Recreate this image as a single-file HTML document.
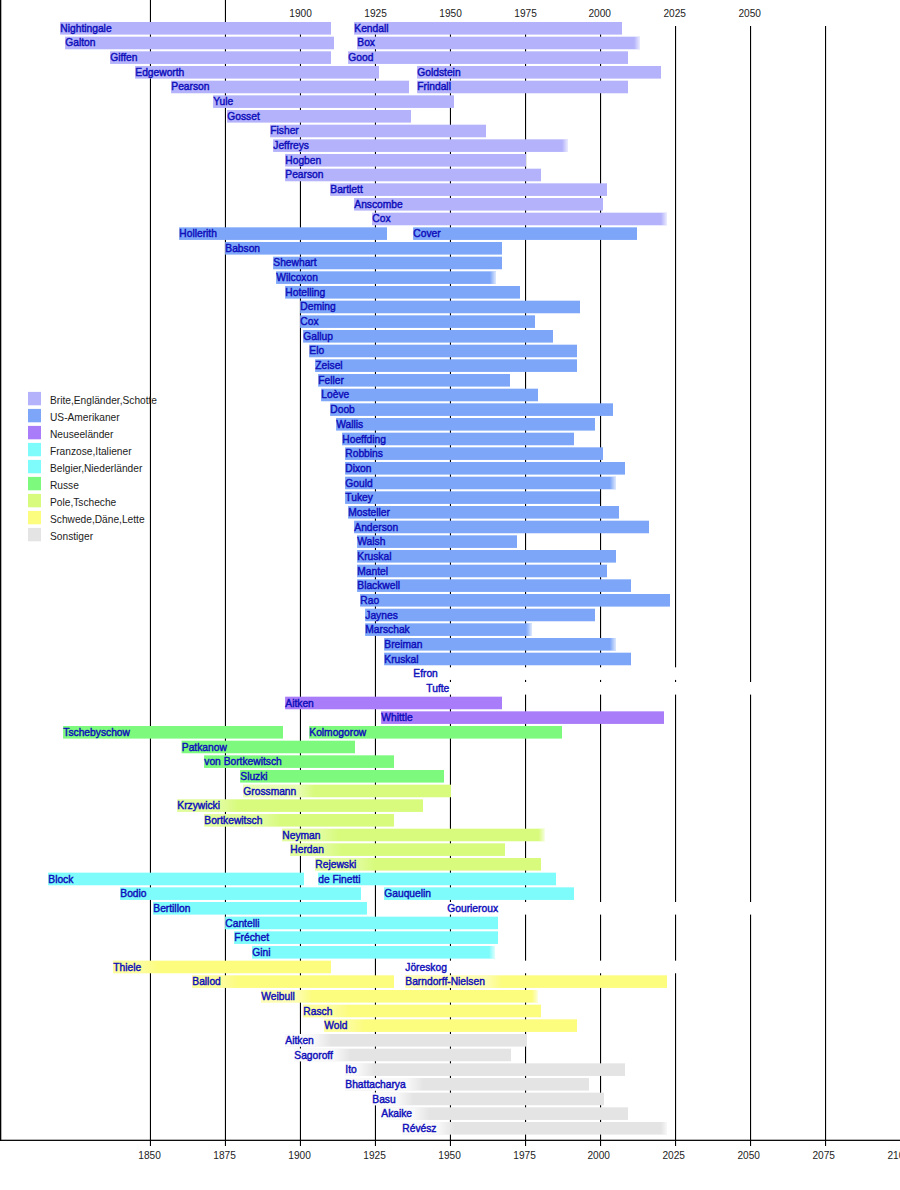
<!DOCTYPE html>
<html lang="de"><head><meta charset="utf-8"><title>Statistiker Zeitleiste</title>
<style>html,body{margin:0;padding:0;background:#fff}body{width:900px;height:1190px;overflow:hidden;position:relative}svg{position:absolute;left:0;top:0;display:block}text{font-family:"Liberation Sans",Arial,Helvetica,sans-serif}.n{font-size:10.25px;fill:#0e0eba;stroke:#0e0eba;stroke-width:0.42px}.a{font-size:10.15px;fill:#1c1c1c;text-anchor:middle}.l{font-size:10.2px;fill:#1c1c1c}</style></head><body>
<svg width="900" height="1190" viewBox="0 0 900 1190">
<rect x="0" y="0" width="900" height="1190" fill="#fff"/>
<g fill="#000">
<rect x="149.9" y="0" width="1.1" height="1146"/>
<rect x="224.9" y="0" width="1.1" height="1146"/>
<rect x="299.9" y="26" width="1.1" height="1120"/>
<rect x="374.9" y="26" width="1.1" height="1120"/>
<rect x="449.9" y="26" width="1.1" height="1120"/>
<rect x="525.0" y="26" width="1.1" height="1120"/>
<rect x="600.0" y="26" width="1.1" height="1120"/>
<rect x="675.0" y="26" width="1.1" height="1120"/>
<rect x="750.0" y="26" width="1.1" height="1120"/>
<rect x="825.0" y="26" width="1.1" height="1120"/>
<rect x="0" y="0" width="1.3" height="1141"/>
<rect x="0" y="1139.7" width="900" height="1.25"/>
</g>
<g>
<rect x="60.1" y="22.00" width="270.9" height="12.6" fill="#b3b2fb"/>
<rect x="354.1" y="22.00" width="267.9" height="12.6" fill="#b3b2fb"/>
<rect x="65.1" y="36.67" width="268.9" height="12.6" fill="#b3b2fb"/>
<rect x="357.1" y="36.67" width="282.9" height="12.6" fill="#b3b2fb"/>
<rect x="110.1" y="51.33" width="220.9" height="12.6" fill="#b3b2fb"/>
<rect x="348.1" y="51.33" width="279.9" height="12.6" fill="#b3b2fb"/>
<rect x="135.1" y="66.00" width="243.9" height="12.6" fill="#b3b2fb"/>
<rect x="417.1" y="66.00" width="243.9" height="12.6" fill="#b3b2fb"/>
<rect x="171.1" y="80.67" width="237.9" height="12.6" fill="#b3b2fb"/>
<rect x="417.1" y="80.67" width="210.9" height="12.6" fill="#b3b2fb"/>
<rect x="213.1" y="95.33" width="240.9" height="12.6" fill="#b3b2fb"/>
<rect x="227.1" y="110.00" width="183.9" height="12.6" fill="#b3b2fb"/>
<rect x="270.1" y="124.67" width="215.9" height="12.6" fill="#b3b2fb"/>
<rect x="273.1" y="139.33" width="294.9" height="12.6" fill="#b3b2fb"/>
<rect x="285.1" y="154.00" width="240.9" height="12.6" fill="#b3b2fb"/>
<rect x="285.1" y="168.67" width="255.9" height="12.6" fill="#b3b2fb"/>
<rect x="330.1" y="183.33" width="276.9" height="12.6" fill="#b3b2fb"/>
<rect x="354.1" y="198.00" width="248.9" height="12.6" fill="#b3b2fb"/>
<rect x="372.1" y="212.67" width="294.9" height="12.6" fill="#b3b2fb"/>
<rect x="179.1" y="227.33" width="207.9" height="12.6" fill="#7da6f9"/>
<rect x="413.1" y="227.33" width="223.9" height="12.6" fill="#7da6f9"/>
<rect x="225.1" y="242.00" width="276.9" height="12.6" fill="#7da6f9"/>
<rect x="273.1" y="256.67" width="228.9" height="12.6" fill="#7da6f9"/>
<rect x="276.1" y="271.33" width="219.9" height="12.6" fill="#7da6f9"/>
<rect x="285.1" y="286.00" width="234.9" height="12.6" fill="#7da6f9"/>
<rect x="300.1" y="300.67" width="279.9" height="12.6" fill="#7da6f9"/>
<rect x="300.1" y="315.33" width="234.9" height="12.6" fill="#7da6f9"/>
<rect x="303.1" y="330.00" width="249.9" height="12.6" fill="#7da6f9"/>
<rect x="309.1" y="344.67" width="267.9" height="12.6" fill="#7da6f9"/>
<rect x="315.1" y="359.33" width="261.9" height="12.6" fill="#7da6f9"/>
<rect x="318.1" y="374.00" width="191.9" height="12.6" fill="#7da6f9"/>
<rect x="321.1" y="388.67" width="216.9" height="12.6" fill="#7da6f9"/>
<rect x="330.1" y="403.33" width="282.9" height="12.6" fill="#7da6f9"/>
<rect x="336.1" y="418.00" width="258.9" height="12.6" fill="#7da6f9"/>
<rect x="342.1" y="432.67" width="231.9" height="12.6" fill="#7da6f9"/>
<rect x="345.1" y="447.33" width="257.9" height="12.6" fill="#7da6f9"/>
<rect x="345.1" y="462.00" width="279.9" height="12.6" fill="#7da6f9"/>
<rect x="345.1" y="476.67" width="270.9" height="12.6" fill="#7da6f9"/>
<rect x="345.1" y="491.33" width="254.9" height="12.6" fill="#7da6f9"/>
<rect x="348.1" y="506.00" width="270.9" height="12.6" fill="#7da6f9"/>
<rect x="354.1" y="520.67" width="294.9" height="12.6" fill="#7da6f9"/>
<rect x="357.1" y="535.33" width="159.9" height="12.6" fill="#7da6f9"/>
<rect x="357.1" y="550.00" width="258.9" height="12.6" fill="#7da6f9"/>
<rect x="357.1" y="564.67" width="249.9" height="12.6" fill="#7da6f9"/>
<rect x="357.1" y="579.33" width="273.9" height="12.6" fill="#7da6f9"/>
<rect x="360.1" y="594.00" width="309.9" height="12.6" fill="#7da6f9"/>
<rect x="365.1" y="608.67" width="229.9" height="12.6" fill="#7da6f9"/>
<rect x="365.1" y="623.33" width="166.9" height="12.6" fill="#7da6f9"/>
<rect x="384.1" y="638.00" width="231.9" height="12.6" fill="#7da6f9"/>
<rect x="384.1" y="652.67" width="246.9" height="12.6" fill="#7da6f9"/>
<rect x="413.1" y="667.33" width="331.9" height="12.6" fill="#ffffff"/>
<rect x="426.1" y="682.00" width="330.9" height="12.6" fill="#ffffff"/>
<rect x="285.1" y="696.67" width="216.9" height="12.6" fill="#a97df9"/>
<rect x="381.1" y="711.33" width="282.9" height="12.6" fill="#a97df9"/>
<rect x="63.1" y="726.00" width="219.9" height="12.6" fill="#7dfa7e"/>
<rect x="309.1" y="726.00" width="252.9" height="12.6" fill="#7dfa7e"/>
<rect x="181.6" y="740.67" width="173.4" height="12.6" fill="#7dfa7e"/>
<rect x="204.1" y="755.33" width="189.9" height="12.6" fill="#7dfa7e"/>
<rect x="240.1" y="770.00" width="203.9" height="12.6" fill="#7dfa7e"/>
<rect x="243.1" y="784.67" width="207.9" height="12.6" fill="#d8fb7e"/>
<rect x="177.1" y="799.33" width="245.9" height="12.6" fill="#d8fb7e"/>
<rect x="204.1" y="814.00" width="189.9" height="12.6" fill="#d8fb7e"/>
<rect x="282.1" y="828.67" width="262.6" height="12.6" fill="#d8fb7e"/>
<rect x="290.1" y="843.33" width="214.9" height="12.6" fill="#d8fb7e"/>
<rect x="315.1" y="858.00" width="225.9" height="12.6" fill="#d8fb7e"/>
<rect x="48.1" y="872.67" width="255.9" height="12.6" fill="#7efbfb"/>
<rect x="318.1" y="872.67" width="237.9" height="12.6" fill="#7efbfb"/>
<rect x="120.1" y="887.33" width="240.9" height="12.6" fill="#7efbfb"/>
<rect x="384.1" y="887.33" width="189.9" height="12.6" fill="#7efbfb"/>
<rect x="153.1" y="902.00" width="213.9" height="12.6" fill="#7efbfb"/>
<rect x="447.1" y="902.00" width="330.9" height="12.6" fill="#ffffff"/>
<rect x="225.1" y="916.67" width="272.9" height="12.6" fill="#7efbfb"/>
<rect x="234.1" y="931.33" width="263.9" height="12.6" fill="#7efbfb"/>
<rect x="252.1" y="946.00" width="242.9" height="12.6" fill="#7efbfb"/>
<rect x="113.1" y="960.67" width="217.9" height="12.6" fill="#fcfc7e"/>
<rect x="405.1" y="960.67" width="330.9" height="12.6" fill="#ffffff"/>
<rect x="192.1" y="975.33" width="201.9" height="12.6" fill="#fcfc7e"/>
<rect x="405.1" y="975.33" width="261.9" height="12.6" fill="#fcfc7e"/>
<rect x="261.1" y="990.00" width="276.9" height="12.6" fill="#fcfc7e"/>
<rect x="303.1" y="1004.67" width="237.9" height="12.6" fill="#fcfc7e"/>
<rect x="324.1" y="1019.33" width="252.9" height="12.6" fill="#fcfc7e"/>
<rect x="285.1" y="1034.00" width="240.9" height="12.6" fill="#e4e4e4"/>
<rect x="294.1" y="1048.67" width="216.9" height="12.6" fill="#e4e4e4"/>
<rect x="345.1" y="1063.33" width="279.9" height="12.6" fill="#e4e4e4"/>
<rect x="345.1" y="1078.00" width="243.9" height="12.6" fill="#e4e4e4"/>
<rect x="372.1" y="1092.67" width="231.9" height="12.6" fill="#e4e4e4"/>
<rect x="381.1" y="1107.33" width="246.9" height="12.6" fill="#e4e4e4"/>
<rect x="402.1" y="1122.00" width="264.9" height="12.6" fill="#e4e4e4"/>
</g>
<defs><linearGradient id="f1" gradientUnits="userSpaceOnUse" x1="243.1" y1="0" x2="314.1" y2="0"><stop offset="0" stop-color="#fff" stop-opacity="0.45"/><stop offset="0.775" stop-color="#fff" stop-opacity="0.41"/><stop offset="1" stop-color="#fff" stop-opacity="0"/></linearGradient><linearGradient id="f2" gradientUnits="userSpaceOnUse" x1="177.1" y1="0" x2="237.8" y2="0"><stop offset="0" stop-color="#fff" stop-opacity="0.25"/><stop offset="0.736" stop-color="#fff" stop-opacity="0.23"/><stop offset="1" stop-color="#fff" stop-opacity="0"/></linearGradient><linearGradient id="f3" gradientUnits="userSpaceOnUse" x1="204.1" y1="0" x2="280.2" y2="0"><stop offset="0" stop-color="#fff" stop-opacity="0.25"/><stop offset="0.790" stop-color="#fff" stop-opacity="0.23"/><stop offset="1" stop-color="#fff" stop-opacity="0"/></linearGradient><linearGradient id="f4" gradientUnits="userSpaceOnUse" x1="282.1" y1="0" x2="338.3" y2="0"><stop offset="0" stop-color="#fff" stop-opacity="0.25"/><stop offset="0.715" stop-color="#fff" stop-opacity="0.23"/><stop offset="1" stop-color="#fff" stop-opacity="0"/></linearGradient><linearGradient id="f5" gradientUnits="userSpaceOnUse" x1="290.1" y1="0" x2="341.7" y2="0"><stop offset="0" stop-color="#fff" stop-opacity="0.25"/><stop offset="0.690" stop-color="#fff" stop-opacity="0.23"/><stop offset="1" stop-color="#fff" stop-opacity="0"/></linearGradient><linearGradient id="f6" gradientUnits="userSpaceOnUse" x1="315.1" y1="0" x2="374.1" y2="0"><stop offset="0" stop-color="#fff" stop-opacity="0.25"/><stop offset="0.729" stop-color="#fff" stop-opacity="0.23"/><stop offset="1" stop-color="#fff" stop-opacity="0"/></linearGradient><linearGradient id="f7" gradientUnits="userSpaceOnUse" x1="113.1" y1="0" x2="159.0" y2="0"><stop offset="0" stop-color="#fff" stop-opacity="0.25"/><stop offset="0.652" stop-color="#fff" stop-opacity="0.23"/><stop offset="1" stop-color="#fff" stop-opacity="0"/></linearGradient><linearGradient id="f8" gradientUnits="userSpaceOnUse" x1="192.1" y1="0" x2="238.6" y2="0"><stop offset="0" stop-color="#fff" stop-opacity="0.25"/><stop offset="0.656" stop-color="#fff" stop-opacity="0.23"/><stop offset="1" stop-color="#fff" stop-opacity="0"/></linearGradient><linearGradient id="f9" gradientUnits="userSpaceOnUse" x1="405.1" y1="0" x2="502.7" y2="0"><stop offset="0" stop-color="#fff" stop-opacity="0.45"/><stop offset="0.836" stop-color="#fff" stop-opacity="0.41"/><stop offset="1" stop-color="#fff" stop-opacity="0"/></linearGradient><linearGradient id="f10" gradientUnits="userSpaceOnUse" x1="261.1" y1="0" x2="312.5" y2="0"><stop offset="0" stop-color="#fff" stop-opacity="0.45"/><stop offset="0.689" stop-color="#fff" stop-opacity="0.41"/><stop offset="1" stop-color="#fff" stop-opacity="0"/></linearGradient><linearGradient id="f11" gradientUnits="userSpaceOnUse" x1="303.1" y1="0" x2="350.2" y2="0"><stop offset="0" stop-color="#fff" stop-opacity="0.25"/><stop offset="0.660" stop-color="#fff" stop-opacity="0.23"/><stop offset="1" stop-color="#fff" stop-opacity="0"/></linearGradient><linearGradient id="f12" gradientUnits="userSpaceOnUse" x1="324.1" y1="0" x2="365.3" y2="0"><stop offset="0" stop-color="#fff" stop-opacity="0.25"/><stop offset="0.611" stop-color="#fff" stop-opacity="0.23"/><stop offset="1" stop-color="#fff" stop-opacity="0"/></linearGradient><linearGradient id="f13" gradientUnits="userSpaceOnUse" x1="285.1" y1="0" x2="331.6" y2="0"><stop offset="0" stop-color="#fff" stop-opacity="0.80"/><stop offset="0.656" stop-color="#fff" stop-opacity="0.72"/><stop offset="1" stop-color="#fff" stop-opacity="0"/></linearGradient><linearGradient id="f14" gradientUnits="userSpaceOnUse" x1="294.1" y1="0" x2="350.7" y2="0"><stop offset="0" stop-color="#fff" stop-opacity="0.80"/><stop offset="0.717" stop-color="#fff" stop-opacity="0.72"/><stop offset="1" stop-color="#fff" stop-opacity="0"/></linearGradient><linearGradient id="f15" gradientUnits="userSpaceOnUse" x1="345.1" y1="0" x2="374.5" y2="0"><stop offset="0" stop-color="#fff" stop-opacity="0.80"/><stop offset="0.456" stop-color="#fff" stop-opacity="0.72"/><stop offset="1" stop-color="#fff" stop-opacity="0"/></linearGradient><linearGradient id="f16" gradientUnits="userSpaceOnUse" x1="345.1" y1="0" x2="423.5" y2="0"><stop offset="0" stop-color="#fff" stop-opacity="0.80"/><stop offset="0.796" stop-color="#fff" stop-opacity="0.72"/><stop offset="1" stop-color="#fff" stop-opacity="0"/></linearGradient><linearGradient id="f17" gradientUnits="userSpaceOnUse" x1="372.1" y1="0" x2="413.5" y2="0"><stop offset="0" stop-color="#fff" stop-opacity="0.80"/><stop offset="0.613" stop-color="#fff" stop-opacity="0.72"/><stop offset="1" stop-color="#fff" stop-opacity="0"/></linearGradient><linearGradient id="f18" gradientUnits="userSpaceOnUse" x1="381.1" y1="0" x2="429.9" y2="0"><stop offset="0" stop-color="#fff" stop-opacity="0.80"/><stop offset="0.672" stop-color="#fff" stop-opacity="0.72"/><stop offset="1" stop-color="#fff" stop-opacity="0"/></linearGradient><linearGradient id="f19" gradientUnits="userSpaceOnUse" x1="402.1" y1="0" x2="454.3" y2="0"><stop offset="0" stop-color="#fff" stop-opacity="0.80"/><stop offset="0.693" stop-color="#fff" stop-opacity="0.72"/><stop offset="1" stop-color="#fff" stop-opacity="0"/></linearGradient><linearGradient id="f20" gradientUnits="userSpaceOnUse" x1="634.0" y1="0" x2="640.0" y2="0"><stop offset="0" stop-color="#fff" stop-opacity="0"/><stop offset="1" stop-color="#fff" stop-opacity="0.75"/></linearGradient><linearGradient id="f21" gradientUnits="userSpaceOnUse" x1="562.0" y1="0" x2="568.0" y2="0"><stop offset="0" stop-color="#fff" stop-opacity="0"/><stop offset="1" stop-color="#fff" stop-opacity="0.75"/></linearGradient><linearGradient id="f22" gradientUnits="userSpaceOnUse" x1="661.0" y1="0" x2="667.0" y2="0"><stop offset="0" stop-color="#fff" stop-opacity="0"/><stop offset="1" stop-color="#fff" stop-opacity="0.75"/></linearGradient><linearGradient id="f23" gradientUnits="userSpaceOnUse" x1="490.0" y1="0" x2="496.0" y2="0"><stop offset="0" stop-color="#fff" stop-opacity="0"/><stop offset="1" stop-color="#fff" stop-opacity="0.75"/></linearGradient><linearGradient id="f24" gradientUnits="userSpaceOnUse" x1="610.0" y1="0" x2="616.0" y2="0"><stop offset="0" stop-color="#fff" stop-opacity="0"/><stop offset="1" stop-color="#fff" stop-opacity="0.75"/></linearGradient><linearGradient id="f25" gradientUnits="userSpaceOnUse" x1="526.0" y1="0" x2="532.0" y2="0"><stop offset="0" stop-color="#fff" stop-opacity="0"/><stop offset="1" stop-color="#fff" stop-opacity="0.75"/></linearGradient><linearGradient id="f26" gradientUnits="userSpaceOnUse" x1="610.0" y1="0" x2="616.0" y2="0"><stop offset="0" stop-color="#fff" stop-opacity="0"/><stop offset="1" stop-color="#fff" stop-opacity="0.75"/></linearGradient><linearGradient id="f27" gradientUnits="userSpaceOnUse" x1="538.7" y1="0" x2="544.7" y2="0"><stop offset="0" stop-color="#fff" stop-opacity="0"/><stop offset="1" stop-color="#fff" stop-opacity="0.75"/></linearGradient><linearGradient id="f28" gradientUnits="userSpaceOnUse" x1="489.0" y1="0" x2="495.0" y2="0"><stop offset="0" stop-color="#fff" stop-opacity="0"/><stop offset="1" stop-color="#fff" stop-opacity="0.75"/></linearGradient><linearGradient id="f29" gradientUnits="userSpaceOnUse" x1="532.0" y1="0" x2="538.0" y2="0"><stop offset="0" stop-color="#fff" stop-opacity="0"/><stop offset="1" stop-color="#fff" stop-opacity="0.75"/></linearGradient><linearGradient id="f30" gradientUnits="userSpaceOnUse" x1="661.0" y1="0" x2="667.0" y2="0"><stop offset="0" stop-color="#fff" stop-opacity="0"/><stop offset="1" stop-color="#fff" stop-opacity="0.75"/></linearGradient></defs>
<rect x="243.1" y="784.67" width="71.0" height="12.6" fill="url(#f1)"/>
<rect x="177.1" y="799.33" width="60.7" height="12.6" fill="url(#f2)"/>
<rect x="204.1" y="814.00" width="76.1" height="12.6" fill="url(#f3)"/>
<rect x="282.1" y="828.67" width="56.2" height="12.6" fill="url(#f4)"/>
<rect x="290.1" y="843.33" width="51.6" height="12.6" fill="url(#f5)"/>
<rect x="315.1" y="858.00" width="59.0" height="12.6" fill="url(#f6)"/>
<rect x="113.1" y="960.67" width="45.9" height="12.6" fill="url(#f7)"/>
<rect x="192.1" y="975.33" width="46.5" height="12.6" fill="url(#f8)"/>
<rect x="405.1" y="975.33" width="97.6" height="12.6" fill="url(#f9)"/>
<rect x="261.1" y="990.00" width="51.4" height="12.6" fill="url(#f10)"/>
<rect x="303.1" y="1004.67" width="47.1" height="12.6" fill="url(#f11)"/>
<rect x="324.1" y="1019.33" width="41.2" height="12.6" fill="url(#f12)"/>
<rect x="285.1" y="1034.00" width="46.5" height="12.6" fill="url(#f13)"/>
<rect x="294.1" y="1048.67" width="56.6" height="12.6" fill="url(#f14)"/>
<rect x="345.1" y="1063.33" width="29.4" height="12.6" fill="url(#f15)"/>
<rect x="345.1" y="1078.00" width="78.4" height="12.6" fill="url(#f16)"/>
<rect x="372.1" y="1092.67" width="41.4" height="12.6" fill="url(#f17)"/>
<rect x="381.1" y="1107.33" width="48.8" height="12.6" fill="url(#f18)"/>
<rect x="402.1" y="1122.00" width="52.2" height="12.6" fill="url(#f19)"/>
<rect x="634.0" y="36.67" width="6.2" height="12.6" fill="url(#f20)"/>
<rect x="562.0" y="139.33" width="6.2" height="12.6" fill="url(#f21)"/>
<rect x="661.0" y="212.67" width="6.2" height="12.6" fill="url(#f22)"/>
<rect x="490.0" y="271.33" width="6.2" height="12.6" fill="url(#f23)"/>
<rect x="610.0" y="476.67" width="6.2" height="12.6" fill="url(#f24)"/>
<rect x="526.0" y="623.33" width="6.2" height="12.6" fill="url(#f25)"/>
<rect x="610.0" y="638.00" width="6.2" height="12.6" fill="url(#f26)"/>
<rect x="538.7" y="828.67" width="6.2" height="12.6" fill="url(#f27)"/>
<rect x="489.0" y="946.00" width="6.2" height="12.6" fill="url(#f28)"/>
<rect x="532.0" y="990.00" width="6.2" height="12.6" fill="url(#f29)"/>
<rect x="661.0" y="1122.00" width="6.2" height="12.6" fill="url(#f30)"/>
<rect x="28" y="391.9" width="13" height="13.4" fill="#b3b2fb"/>
<text class="l" x="50" y="403.9">Brite,Engländer,Schotte</text>
<rect x="28" y="408.9" width="13" height="13.4" fill="#7da6f9"/>
<text class="l" x="50" y="420.9">US-Amerikaner</text>
<rect x="28" y="425.9" width="13" height="13.4" fill="#a97df9"/>
<text class="l" x="50" y="437.9">Neuseeländer</text>
<rect x="28" y="442.9" width="13" height="13.4" fill="#7efbfb"/>
<text class="l" x="50" y="454.9">Franzose,Italiener</text>
<rect x="28" y="459.9" width="13" height="13.4" fill="#7efbfb"/>
<text class="l" x="50" y="471.9">Belgier,Niederländer</text>
<rect x="28" y="476.9" width="13" height="13.4" fill="#7dfa7e"/>
<text class="l" x="50" y="488.9">Russe</text>
<rect x="28" y="493.9" width="13" height="13.4" fill="#d8fb7e"/>
<text class="l" x="50" y="505.9">Pole,Tscheche</text>
<rect x="28" y="510.9" width="13" height="13.4" fill="#fcfc7e"/>
<text class="l" x="50" y="522.9">Schwede,Däne,Lette</text>
<rect x="28" y="527.9" width="13" height="13.4" fill="#e4e4e4"/>
<text class="l" x="50" y="539.9">Sonstiger</text>
<text class="n" x="60.3" y="31.70">Nightingale</text>
<text class="n" x="354.3" y="31.70">Kendall</text>
<text class="n" x="65.3" y="46.37">Galton</text>
<text class="n" x="357.3" y="46.37">Box</text>
<text class="n" x="110.3" y="61.03">Giffen</text>
<text class="n" x="348.3" y="61.03">Good</text>
<text class="n" x="135.3" y="75.70">Edgeworth</text>
<text class="n" x="417.3" y="75.70">Goldstein</text>
<text class="n" x="171.3" y="90.37">Pearson</text>
<text class="n" x="417.3" y="90.37">Frindall</text>
<text class="n" x="213.3" y="105.03">Yule</text>
<text class="n" x="227.3" y="119.70">Gosset</text>
<text class="n" x="270.3" y="134.37">Fisher</text>
<text class="n" x="273.3" y="149.03">Jeffreys</text>
<text class="n" x="285.3" y="163.70">Hogben</text>
<text class="n" x="285.3" y="178.37">Pearson</text>
<text class="n" x="330.3" y="193.03">Bartlett</text>
<text class="n" x="354.3" y="207.70">Anscombe</text>
<text class="n" x="372.3" y="222.37">Cox</text>
<text class="n" x="179.3" y="237.03">Hollerith</text>
<text class="n" x="413.3" y="237.03">Cover</text>
<text class="n" x="225.3" y="251.70">Babson</text>
<text class="n" x="273.3" y="266.37">Shewhart</text>
<text class="n" x="276.3" y="281.03">Wilcoxon</text>
<text class="n" x="285.3" y="295.70">Hotelling</text>
<text class="n" x="300.3" y="310.37">Deming</text>
<text class="n" x="300.3" y="325.03">Cox</text>
<text class="n" x="303.3" y="339.70">Gallup</text>
<text class="n" x="309.3" y="354.41">Elo</text>
<text class="n" x="315.3" y="369.03">Zeisel</text>
<text class="n" x="318.3" y="383.70">Feller</text>
<text class="n" x="321.3" y="398.47">Loève</text>
<text class="n" x="330.3" y="413.03">Doob</text>
<text class="n" x="336.3" y="427.70">Wallis</text>
<text class="n" x="342.3" y="442.53">Hoeffding</text>
<text class="n" x="345.3" y="457.03">Robbins</text>
<text class="n" x="345.3" y="471.70">Dixon</text>
<text class="n" x="345.3" y="486.59">Gould</text>
<text class="n" x="345.3" y="501.03">Tukey</text>
<text class="n" x="348.3" y="515.70">Mosteller</text>
<text class="n" x="354.3" y="530.65">Anderson</text>
<text class="n" x="357.3" y="545.03">Walsh</text>
<text class="n" x="357.3" y="559.70">Kruskal</text>
<text class="n" x="357.3" y="574.71">Mantel</text>
<text class="n" x="357.3" y="589.03">Blackwell</text>
<text class="n" x="360.3" y="603.70">Rao</text>
<text class="n" x="365.3" y="618.77">Jaynes</text>
<text class="n" x="365.3" y="633.03">Marschak</text>
<text class="n" x="384.3" y="647.70">Breiman</text>
<text class="n" x="384.3" y="662.83">Kruskal</text>
<text class="n" x="413.3" y="677.03">Efron</text>
<text class="n" x="426.3" y="691.70">Tufte</text>
<text class="n" x="285.3" y="706.89">Aitken</text>
<text class="n" x="381.3" y="721.03">Whittle</text>
<text class="n" x="63.3" y="735.70">Tschebyschow</text>
<text class="n" x="309.3" y="735.70">Kolmogorow</text>
<text class="n" x="181.8" y="750.95">Patkanow</text>
<text class="n" x="204.3" y="765.03">von Bortkewitsch</text>
<text class="n" x="240.3" y="779.70">Sluzki</text>
<text class="n" x="243.3" y="795.01">Grossmann</text>
<text class="n" x="177.3" y="809.03">Krzywicki</text>
<text class="n" x="204.3" y="823.70">Bortkewitsch</text>
<text class="n" x="282.3" y="839.07">Neyman</text>
<text class="n" x="290.3" y="853.03">Herdan</text>
<text class="n" x="315.3" y="867.70">Rejewski</text>
<text class="n" x="48.3" y="883.13">Block</text>
<text class="n" x="318.3" y="883.13">de Finetti</text>
<text class="n" x="120.3" y="897.03">Bodio</text>
<text class="n" x="384.3" y="897.03">Gauquelin</text>
<text class="n" x="153.3" y="911.70">Bertillon</text>
<text class="n" x="447.3" y="911.70">Gourieroux</text>
<text class="n" x="225.3" y="927.19">Cantelli</text>
<text class="n" x="234.3" y="941.03">Fréchet</text>
<text class="n" x="252.3" y="955.70">Gini</text>
<text class="n" x="113.3" y="971.25">Thiele</text>
<text class="n" x="405.3" y="971.25">Jöreskog</text>
<text class="n" x="192.3" y="985.03">Ballod</text>
<text class="n" x="405.3" y="985.03">Barndorff-Nielsen</text>
<text class="n" x="261.3" y="999.70">Weibull</text>
<text class="n" x="303.3" y="1015.31">Rasch</text>
<text class="n" x="324.3" y="1029.03">Wold</text>
<text class="n" x="285.3" y="1043.70">Aitken</text>
<text class="n" x="294.3" y="1059.37">Sagoroff</text>
<text class="n" x="345.3" y="1073.03">Ito</text>
<text class="n" x="345.3" y="1087.70">Bhattacharya</text>
<text class="n" x="372.3" y="1103.43">Basu</text>
<text class="n" x="381.3" y="1117.03">Akaike</text>
<text class="n" x="402.3" y="1131.70">Révész</text>
<text class="a" x="300.6" y="17">1900</text>
<text class="a" x="375.6" y="17">1925</text>
<text class="a" x="450.6" y="17">1950</text>
<text class="a" x="525.6" y="17">1975</text>
<text class="a" x="599.7" y="17">2000</text>
<text class="a" x="674.7" y="17">2025</text>
<text class="a" x="749.7" y="17">2050</text>
<text class="a" x="149.6" y="1159.3">1850</text>
<text class="a" x="224.6" y="1159.3">1875</text>
<text class="a" x="299.6" y="1159.3">1900</text>
<text class="a" x="374.6" y="1159.3">1925</text>
<text class="a" x="449.6" y="1159.3">1950</text>
<text class="a" x="524.6" y="1159.3">1975</text>
<text class="a" x="598.7" y="1159.3">2000</text>
<text class="a" x="673.7" y="1159.3">2025</text>
<text class="a" x="748.7" y="1159.3">2050</text>
<text class="a" x="823.7" y="1159.3">2075</text>
<text class="a" x="898.7" y="1159.3">2100</text>
</svg></body></html>
